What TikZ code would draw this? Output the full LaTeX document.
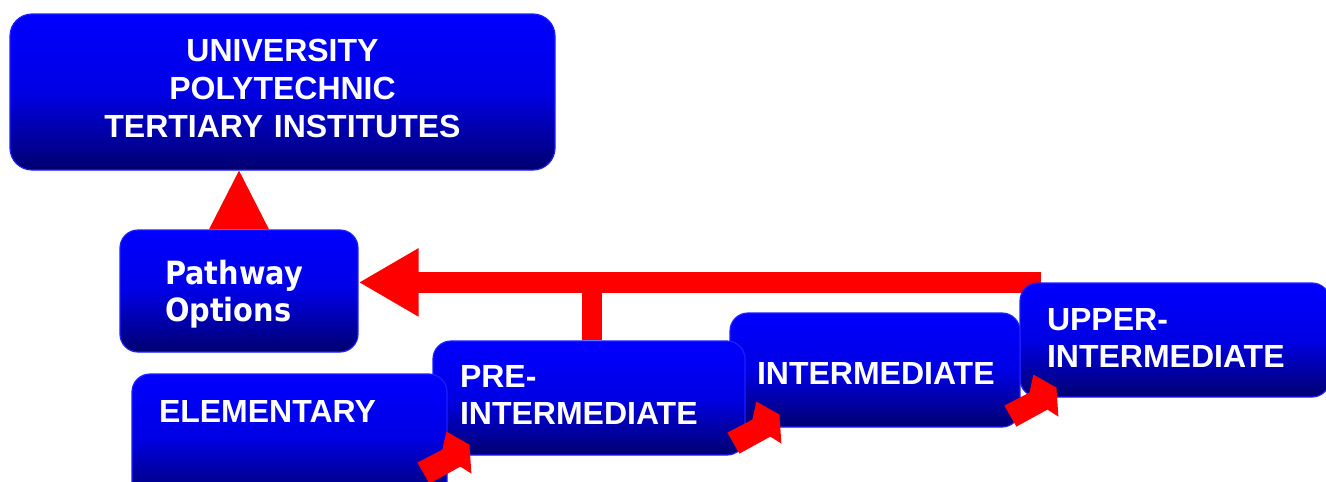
\documentclass[tikz,border=0pt]{standalone}
\usepackage{fontspec}
\setmainfont{Liberation Sans}
\newfontfamily\pathfont[FakeStretch=0.9]{DejaVu Sans}
\usetikzlibrary{arrows.meta,calc,backgrounds}
\definecolor{boxtop}{RGB}{0,0,255}
\definecolor{boxmid}{RGB}{0,0,228}
\definecolor{boxbot}{RGB}{0,0,112}
\definecolor{boxline}{RGB}{30,30,255}
\definecolor{arrowred}{RGB}{255,0,0}
\tikzset{
  basebox/.style={rounded corners=18pt, draw=boxline, line width=1.2pt,
    top color=boxtop, bottom color=boxbot, middle color=boxmid,
    text=white, inner ysep=0pt, anchor=center},
  levelbox/.style={basebox, font=\bfseries\fontsize{32}{37}\selectfont,
    align=left, inner xsep=27pt},
  pathbox/.style={basebox, font=\pathfont\bfseries\fontsize{32}{37}\selectfont,
    align=left, inner xsep=45pt},
  topbox/.style={basebox, rounded corners=22pt,
    font=\bfseries\fontsize{32}{38}\selectfont, align=center, inner xsep=10pt},
  redbar/.style={arrowred, line width=21pt},
  stepper/.pic={\fill[arrowred] (0,0) -- (25,-13) -- (29,-31) -- (52,-18)
    -- (54,11) -- (43,4) -- (12,21) -- cycle;}
}
\begin{document}
\begin{tikzpicture}[x=1pt,y=-1pt]
\useasboundingbox (0,0) rectangle (1326,482);
\clip (0,0) rectangle (1326,482);
% level boxes (right ones behind left ones)
\node[levelbox, text width=256pt, minimum height=114pt, text depth=41pt] (upper) at (1175,340) {UPPER-\\INTERMEDIATE};
\node[levelbox, text width=236pt, minimum height=114pt, text height=29pt] (inter) at (875,370) {INTERMEDIATE};
\node[levelbox, text width=258pt, minimum height=114pt, text depth=43pt] (pre) at (589,398) {PRE-\\INTERMEDIATE};
\node[levelbox, text width=261pt, minimum height=126pt, text depth=52pt] (elem) at (289.5,437) {ELEMENTARY};
\node[pathbox, text width=148pt, minimum height=122pt, text height=30pt] (path) at (239,291) {Pathway\\Options};
\node[topbox, text width=525pt, minimum height=156pt, text depth=84pt] (top) at (282.5,92) {UNIVERSITY\\POLYTECHNIC\\TERTIARY INSTITUTES};
% connectors
\begin{scope}[on background layer]
  \coordinate (barstart) at ($(upper.north west)+(22,0)$);
  \coordinate (junction) at ($(pre.north)+(3,0)$);
  \draw[redbar, -{Triangle[length=60pt,width=64pt]}] (barstart) -- (barstart -| path.east);
  \draw[arrowred, line width=20pt] (junction) -- (junction |- barstart);
\end{scope}
\fill[arrowred] ($(path.north)+(-30,0)$) -- ($(path.north)+(30,0)$) -- (path.north |- top.south) -- cycle;
\pic at ($(pre.south west)+(-15,7)$) {stepper};
\pic at ($(inter.south west)+(-2,5)$) {stepper};
\pic at ($(upper.south west)+(-15,8)$) {stepper};
\end{tikzpicture}
\end{document}
